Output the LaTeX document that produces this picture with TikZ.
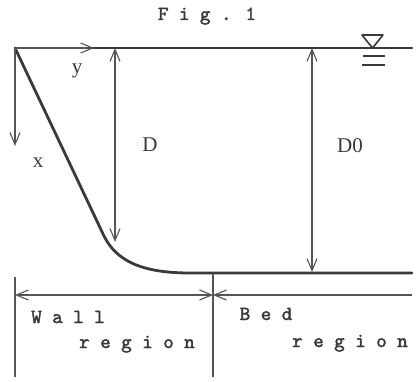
\documentclass[tikz,border=0pt]{standalone}
\usepackage{fontspec}
\setmainfont{Liberation Serif}
\newfontfamily\monofnt[Extension=.otf,FakeBold=2]{lmmono10-regular}
\usetikzlibrary{arrows.meta}
\definecolor{ink}{HTML}{3A3A3A}
\definecolor{thin}{HTML}{555555}
\begin{document}
\begin{tikzpicture}[x=1pt,y=-1pt,
  thick line/.style={draw=ink,line width=2.8pt,line cap=round,line join=round},
  thin line/.style={draw=thin,line width=1.1pt},
  barb/.style={thin line,-{Straight Barb[length=12pt,width=10pt,line width=1.1pt]}},
  dbarb/.style={thin line,{Straight Barb[length=12pt,width=10pt,line width=1.1pt]}-{Straight Barb[length=12pt,width=10pt,line width=1.1pt]}},
  lbl/.style={text=ink,font=\fontsize{21}{24}\selectfont,inner sep=0pt,anchor=base},
  mono/.style={text=ink,font=\monofnt\fontsize{20}{22}\selectfont,inner sep=0pt,anchor=base}]
\useasboundingbox (0,0) rectangle (420,382);
\fill[white] (0,0) rectangle (420,382);
% key points
\coordinate (O) at (15,48);
\coordinate (TR) at (412,48);
\coordinate (Yend) at (94,48);
\coordinate (Xend) at (15,146);
\coordinate (Dtop) at (115,48);
\coordinate (Dbot) at (115,242);
\coordinate (D0top) at (312,48);
\coordinate (D0bot) at (312,272);
\coordinate (BL) at (190,273);
\coordinate (BR) at (412,273);
\coordinate (WLtop) at (15,277);
\coordinate (WLbot) at (15,377);
\coordinate (MLtop) at (213,273);
\coordinate (MLbot) at (213,377);
\coordinate (AL) at (15,295);
\coordinate (AM) at (213,295);
\coordinate (AR) at (412,295);
% water surface
\draw[thick line] (O) -- (TR);
% wall and bed profile
\draw[thick line] (O) -- (104,236) .. controls (116,260) and (140,273) .. (BL) -- (BR);
% axes
\draw[barb] (O) -- (Yend);
\draw[barb] (O) -- (Xend);
% depth arrows
\draw[dbarb] (Dtop) -- (Dbot);
\draw[dbarb] (D0top) -- (D0bot);
% water level symbol
\draw[ink,line width=1.6pt,line join=round] (362,35) -- (383,35) -- (372.5,48) -- cycle;
\coordinate (S1a) at (363,56); \coordinate (S1b) at (385,56);
\coordinate (S2a) at (362,65); \coordinate (S2b) at (385,65);
\draw[ink,line width=1.6pt] (S1a) -- (S1b);
\draw[ink,line width=1.6pt] (S2a) -- (S2b);
% region markers
\draw[thin line] (WLtop) -- (WLbot);
\draw[thin line] (MLtop) -- (MLbot);
\draw[dbarb] (AL) -- (AM);
\draw[barb] (AR) -- (AM);
% labels
\node[lbl] (ly) at (77,74) {y};
\node[lbl] (lx) at (38,168) {x};
\node[lbl] (lD) at (150,152) {D};
\node[lbl] (lD0) at (350,153) {D0};
\node[mono] (fig) at (207,20) {F i g . 1};
\node[mono] (wall) at (68,323) {W a l l};
\node[mono] (wreg) at (137,348) {r e g i o n};
\node[mono] (bed) at (266,320) {B e d};
\node[mono] (breg) at (350,347) {r e g i o n};
\end{tikzpicture}
\end{document}
